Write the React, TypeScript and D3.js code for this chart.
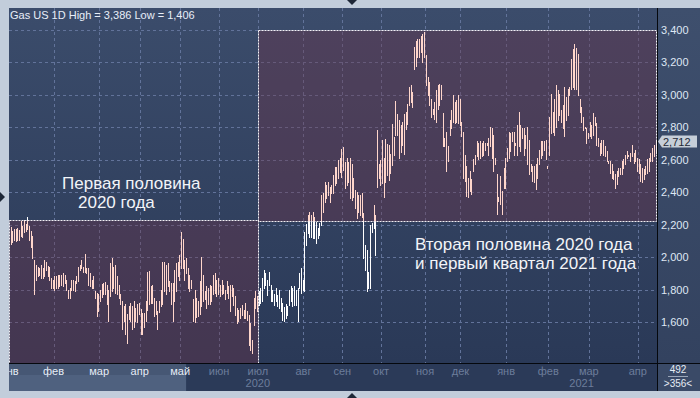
import React from 'react';
import * as d3 from 'd3';

// Gas US, daily bars Jan 2020 – Apr 2021 (high / low per bar)
const title = 'Gas US 1D High = 3,386 Low = 1,406';

const highs = [
  // Jan 2020
  2184, 2164, 2174, 2174, 2178, 2170, 2224, 2194, 2230, 2204, 2248, 2190, 2164, 2133, 1982, 1951, 1941, 1931, 1951, 1931, 1982, 1968, 1947, 1941, 1871, 1860,
  // Feb
  1881, 1881, 1887, 1887, 1891, 1901, 1891, 1860, 1800, 1810, 1860, 1860, 1850, 1881, 1941, 1951, 1982, 1941, 2022, 1931, 1931, 1901, 1860, 1881, 1794, 1780, 1770,
  // Mar
  1800, 1834, 1840, 1846, 1830, 1800, 1961, 1996, 1941, 1951, 1881, 1830, 1770, 1729, 1699, 1709, 1648, 1699, 1719, 1699, 1729, 1689, 1709, 1719,
  // Apr
  1679, 1658, 1658, 1729, 1907, 1915, 1820, 1830, 1745, 1729, 1669, 1729, 1800, 1968, 1972, 1951, 1961, 1850, 1840, 1840, 1921, 1961, 1972, 2012,
  // May
  2153, 2113, 1982, 1992, 1931, 1891, 1860, 1739, 1800, 1749, 1729, 1850, 1998, 1891, 1790, 1820, 1810, 1830, 1820, 1891, 1901, 1860, 1871,
  // Jun
  1830, 1860, 1830, 1800, 1850, 1820, 1830, 1830, 1809, 1758, 1686, 1676, 1686, 1707, 1676, 1717, 1666, 1645, 1594, 1492, 1748, 1789, 1758,
  // Jul
  1789, 1809, 1870, 1922, 1901, 1860, 1911, 1830, 1799, 1772, 1809, 1768, 1799, 1748, 1717, 1690, 1711, 1696, 1799, 1819, 1809, 1819, 1799, 1809, 1901, 1932, 1860,
  // Aug
  2157, 2202, 2260, 2280, 2260, 2280, 2249, 2219, 2178, 2208, 2382, 2393, 2464, 2444, 2464, 2434, 2444, 2505, 2557, 2557, 2598, 2608, 2669,
  // Sep
  2680, 2587, 2608, 2587, 2608, 2577, 2485, 2413, 2403, 2382, 2382, 2393, 2270, 2075, 2045, 1911, 2198, 2208, 2321, 2260, 2782, 2577, 2598,
  // Oct
  2720, 2608, 2731, 2700, 2690, 2638, 2823, 2741, 2960, 2884, 2843, 2813, 2833, 2884, 2895, 2946, 3048, 3062, 3017, 3294, 3335, 3345, 3345, 3366, 3376, 3386,
  // Nov
  3243, 3110, 3079, 2976, 2915, 2956, 3028, 3058, 3069, 3058, 2886, 2734, 2774, 2683, 2845, 2906, 2998, 2957, 2967, 2998, 2977,
  // Dec
  2835, 2774, 2632, 2561, 2490, 2531, 2480, 2602, 2632, 2714, 2703, 2714, 2703, 2714, 2703, 2703, 2734, 2805, 2795, 2754, 2612, 2511, 2368, 2500, 2409, 2551, 2612,
  // Jan 2021
  2673, 2774, 2764, 2774, 2774, 2703, 2815, 2896, 2815, 2795, 2795, 2754, 2805, 2724, 2571, 2561, 2561, 2571, 2612, 2663, 2714, 2714, 2714, 2724, 2561,
  // Feb
  2866, 3008, 2896, 2977, 3059, 3028, 3008, 2906, 2937, 3048, 2988, 3038, 3048, 3221, 3282, 3312, 3292, 3251, 2977, 2927, 2866, 2805, 2795, 2764,
  // Mar
  2835, 2815, 2886, 2866, 2825, 2734, 2703, 2724, 2724, 2683, 2653, 2592, 2592, 2571, 2531, 2511, 2531, 2551, 2551, 2592, 2602, 2632, 2653, 2632, 2642, 2693, 2642, 2663, 2612,
  // Apr
  2602, 2571, 2551, 2541, 2561, 2602, 2612, 2642, 2673, 2693, 2716,
];

const lows = [
  2083, 2093, 2103, 2097, 2103, 2103, 2133, 2123, 2153, 2164, 2174, 2103, 2063, 1992, 1770, 1860, 1881, 1891, 1871, 1871, 1881, 1921, 1881, 1860, 1810, 1810,
  1800, 1810, 1810, 1820, 1830, 1820, 1840, 1800, 1749, 1749, 1800, 1800, 1790, 1840, 1850, 1921, 1931, 1911, 1911, 1901, 1830, 1820, 1810, 1810, 1749, 1638, 1669,
  1729, 1753, 1770, 1770, 1709, 1608, 1760, 1790, 1810, 1780, 1770, 1749, 1709, 1558, 1608, 1527, 1471, 1618, 1608, 1558, 1568, 1608, 1598, 1648,
  1527, 1527, 1568, 1608, 1673, 1709, 1719, 1719, 1638, 1648, 1558, 1659, 1699, 1709, 1790, 1770, 1820, 1790, 1709, 1608, 1729, 1790, 1881, 1860,
  1931, 1931, 1860, 1901, 1810, 1790, 1810, 1608, 1598, 1628, 1638, 1648, 1699, 1729, 1739, 1689, 1709, 1709, 1729, 1770, 1780, 1760, 1770,
  1760, 1770, 1780, 1739, 1780, 1749, 1669, 1758, 1707, 1645, 1594, 1604, 1625, 1645, 1625, 1625, 1614, 1461, 1430, 1406, 1584, 1686, 1666,
  1707, 1717, 1727, 1809, 1830, 1768, 1830, 1727, 1727, 1707, 1727, 1696, 1686, 1666, 1614, 1604, 1625, 1645, 1707, 1727, 1696, 1707, 1707, 1604, 1809, 1778, 1799,
  1789, 2075, 2147, 2126, 2126, 2116, 2116, 2086, 2116, 2137, 2198, 2280, 2342, 2362, 2383, 2342, 2393, 2393, 2444, 2454, 2485, 2526, 2495,
  2536, 2423, 2444, 2464, 2362, 2352, 2372, 2301, 2239, 2280, 2260, 2249, 1993, 1922, 1789, 1809, 1809, 2157, 2178, 2014, 2434, 2485, 2444,
  2454, 2372, 2464, 2505, 2475, 2516, 2567, 2628, 2751, 2751, 2608, 2649, 2690, 2638, 2792, 2823, 2936, 2956, 2925, 3161, 3181, 3232, 3232, 3263, 3202, 3232,
  3058, 2997, 2935, 2864, 2884, 2854, 2833, 2915, 2935, 2976, 2683, 2683, 2531, 2592, 2754, 2795, 2835, 2825, 2835, 2825, 2815,
  2744, 2490, 2470, 2379, 2368, 2409, 2389, 2531, 2571, 2622, 2602, 2612, 2622, 2632, 2663, 2689, 2632, 2683, 2612, 2531, 2571, 2267, 2348, 2328, 2267, 2429, 2429,
  2592, 2612, 2653, 2714, 2632, 2693, 2632, 2683, 2653, 2734, 2632, 2673, 2571, 2511, 2531, 2470, 2460, 2419, 2490, 2571, 2612, 2632, 2663, 2602, 2551,
  2632, 2764, 2774, 2754, 2805, 2845, 2876, 2835, 2795, 2744, 2845, 2876, 2998, 3038, 3048, 3038, 3038, 2998, 2896, 2835, 2785, 2795, 2703, 2734,
  2744, 2734, 2754, 2815, 2693, 2683, 2632, 2642, 2632, 2622, 2592, 2582, 2521, 2490, 2480, 2429, 2450, 2500, 2511, 2511, 2551, 2571, 2612, 2622, 2592, 2622, 2582, 2592, 2531,
  2521, 2470, 2460, 2480, 2511, 2521, 2531, 2592, 2592, 2622, 2642,
];

const lastPrice = 2712;

// month axis: label and index of the first bar of that month
const monthLabels = ['янв', 'фев', 'мар', 'апр', 'май', 'июн', 'июл', 'авг', 'сен', 'окт', 'ноя', 'дек', 'янв', 'фев', 'мар', 'апр'];
const monthStarts = [0, 26, 53, 77, 101, 124, 147, 174, 197, 220, 246, 267, 294, 319, 343, 372];
const yearLabels = ['2020', '2021'];
const yearFirstMonth = [0, 12];

const priceTicks = [1600, 1800, 2000, 2200, 2400, 2600, 2800, 3000, 3200, 3400];

// highlighted periods: first / last bar index and price range
const zoneFrom = [-1, 146.5];
const zoneTo = [146.5, 383];
const zoneHigh = [2230, 3400];
const zoneLow = [1300, 2220];
const zoneText = [
  ['Первая половина', '2020 года'],
  ['Вторая половина 2020 года', 'и первый квартал 2021 года'],
];

const barsTotal = 492;
const barsVisible = 356;
const navEnd = 104; // bar index where the navigator highlight stops

const FONT = '"Liberation Sans", Arial, sans-serif';

export default function App() {
  const W = 700;
  const H = 398;
  const left = 9;
  const right = 657;
  const top = 8;
  const bottom = 363;
  const axisBottom = 391;

  const N = highs.length;
  const x = d3.scaleLinear().domain([0, N - 1]).range([10.5, 655.5]);
  const y = d3.scaleLinear().domain([1600, 3400]).range([322, 30]);
  const fmt = d3.format(',');

  const monthX = monthStarts.map((s) => x(s - 0.5));
  const yearSpan = yearFirstMonth.map((m, i) => {
    const a = Math.max(left, monthX[m]);
    const b = i + 1 < yearFirstMonth.length ? monthX[yearFirstMonth[i + 1]] : right;
    return (a + b) / 2;
  });

  const barPath = highs
    .map((h, i) => {
      const px = Math.round(x(i)) + 0.5;
      return `M${px},${Math.round(y(h))}V${Math.round(y(lows[i])) + 1}`;
    })
    .join('');

  const zones = zoneFrom.map((f, i) => ({
    x0: Math.max(left + 0.5, Math.round(x(f)) + 0.5),
    x1: Math.min(right - 0.5, Math.round(x(zoneTo[i])) + 0.5),
    y0: Math.round(y(zoneHigh[i])) + 0.5,
    y1: Math.min(bottom + 2, Math.round(y(zoneLow[i])) + 0.5),
  }));

  const py = y(lastPrice);

  return (
    <div style={{ position: 'fixed', left: 0, top: 0 }}>
      <svg width={W} height={H} style={{ display: 'block' }} fontFamily={FONT}>
        <defs>
          <linearGradient id="bg" x1="0" x2="0" y1="0" y2="1">
            <stop offset="0%" stopColor="#3b4c6b" />
            <stop offset="100%" stopColor="#2a3957" />
          </linearGradient>
          <linearGradient id="rp" x1="0" x2="0" y1="0" y2="1">
            <stop offset="0%" stopColor="#3e4f6d" />
            <stop offset="100%" stopColor="#33425f" />
          </linearGradient>
          <clipPath id="plotClip">
            <rect x={left} y={top} width={right - left} height={bottom - top} />
          </clipPath>
          <clipPath id="axisClip">
            <rect x={left} y={bottom} width={right - left} height={axisBottom - bottom} />
          </clipPath>
          <clipPath id="zoneClip">
            {zones.map((z, i) => (
              <rect key={i} x={z.x0} y={z.y0} width={z.x1 - z.x0} height={z.y1 - z.y0} />
            ))}
          </clipPath>
        </defs>

        {/* frame */}
        <rect x={0} y={0} width={W} height={H} fill="#c2cddb" />
        <path d="M347,0H357L352,5Z" fill="#1d2737" />
        <path d="M0,192V202L5,197Z" fill="#1d2737" />
        <path d="M347,398H357L352,393Z" fill="#1d2737" />

        {/* plot */}
        <rect x={left} y={top} width={right - left} height={bottom - top} fill="url(#bg)" />
        <g clipPath="url(#plotClip)">
          {priceTicks.map((t) => (
            <line key={t} x1={left} x2={right} y1={Math.round(y(t)) + 0.5} y2={Math.round(y(t)) + 0.5}
              stroke="#62739a" strokeDasharray="3,3" />
          ))}
          {monthX.slice(1).map((mx, i) => (
            <line key={i} x1={Math.round(mx) + 0.5} x2={Math.round(mx) + 0.5} y1={top} y2={bottom}
              stroke="#62739a" strokeDasharray="3,3" />
          ))}
          {zones.map((z, i) => (
            <rect key={i} x={z.x0} y={z.y0} width={z.x1 - z.x0} height={z.y1 - z.y0}
              fill="rgb(110,50,70)" fillOpacity={0.38} />
          ))}
          <path d={barPath} stroke="#ffffff" strokeWidth={1} shapeRendering="crispEdges" fill="none" />
          <path d={barPath} stroke="#ffd6cb" strokeWidth={1} shapeRendering="crispEdges" fill="none"
            clipPath="url(#zoneClip)" />
          {zones.map((z, i) => (
            <rect key={i} x={z.x0} y={z.y0} width={z.x1 - z.x0} height={z.y1 - z.y0}
              fill="none" stroke="#f4f0f4" strokeDasharray="2,1" />
          ))}
        </g>

        <text x={10} y={19} fontSize={11} fill="#e8eef8">{title}</text>

        {/* zone labels */}
        <g fill="#f2f4f8" fontSize={17}>
          <text x={62} y={189}>{zoneText[0][0]}</text>
          <text x={78} y={208}>{zoneText[0][1]}</text>
          <text x={415} y={250}>{zoneText[1][0]}</text>
          <text x={415} y={269}>{zoneText[1][1]}</text>
        </g>

        {/* right price axis */}
        <rect x={right} y={top} width={W - right} height={bottom - top} fill="url(#rp)" />
        {priceTicks.map((t) => (
          <text key={t} x={661} y={y(t) + 4} fontSize={11} fill="#dfe7f4">{fmt(t)}</text>
        ))}
        <path d={`M${right + 1},${py}L${right + 5},${py - 6}H697V${py + 6}H${right + 5}Z`} fill="#c6ced8" />
        <text x={663} y={py + 4} fontSize={11} fill="#1e2836">{fmt(lastPrice)}</text>

        {/* bottom time axis */}
        <rect x={left} y={bottom} width={right - left} height={axisBottom - bottom} fill="#2b3a58" />
        <rect x={left} y={bottom} width={x(navEnd) - left} height={12} fill="#465774" />
        <rect x={left} y={bottom + 12} width={x(navEnd) - left} height={axisBottom - bottom - 12} fill="#4f617f" />
        <g clipPath="url(#axisClip)" fontSize={11} textAnchor="middle">
          {monthX.map((mx, i) => (
            <text key={i} x={mx} y={375} fill={mx < x(navEnd) ? '#e6edf7' : '#6d7d9b'}>{monthLabels[i]}</text>
          ))}
          {yearLabels.map((yl, i) => (
            <text key={yl} x={yearSpan[i]} y={387} fill="#6d7d9b">{yl}</text>
          ))}
        </g>

        {/* corner */}
        <rect x={right} y={bottom} width={W - right} height={axisBottom - bottom} fill="#3a4a67" />
        <g fontSize={10} fill="#e6ecf5" textAnchor="middle">
          <text x={678} y={373}>{barsTotal}</text>
          <text x={678} y={387}>{`>${barsVisible}<`}</text>
        </g>
        <line x1={668} x2={688} y1={376.5} y2={376.5} stroke="#9aa6b8" />

        {/* separators */}
        <line x1={right + 0.5} x2={right + 0.5} y1={top} y2={axisBottom} stroke="#05080d" />
        <line x1={left} x2={W} y1={bottom + 0.5} y2={bottom + 0.5} stroke="#05080d" />
      </svg>
    </div>
  );
}
